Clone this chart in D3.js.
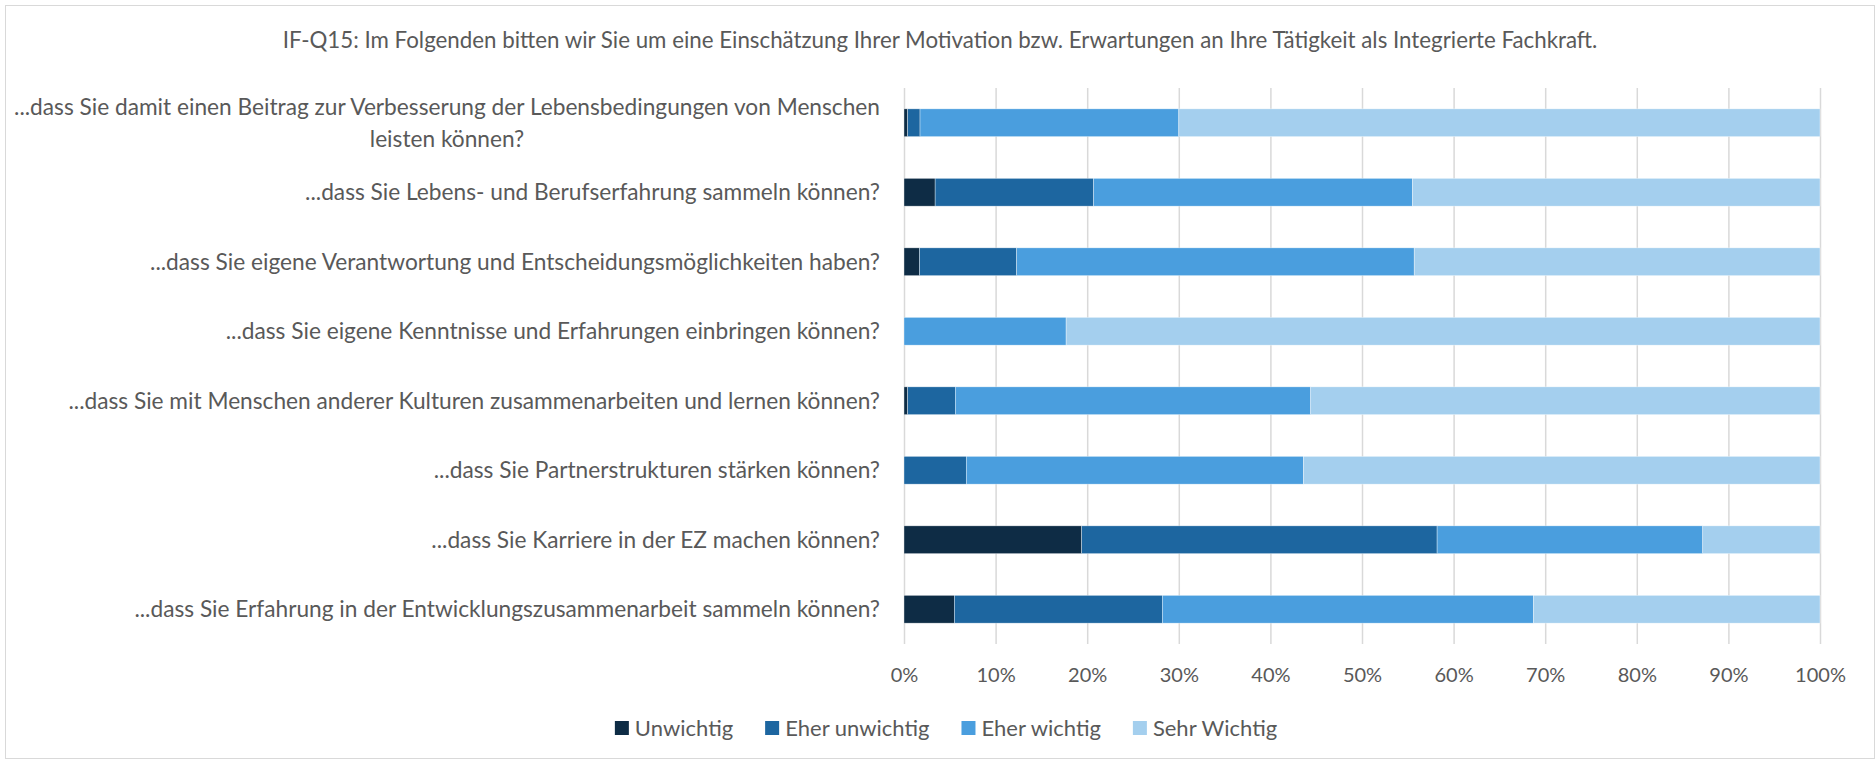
<!DOCTYPE html>
<html>
<head>
<meta charset="utf-8">
<script src="https://cdn.jsdelivr.net/npm/d3@7"></script>
<style>
  body { margin: 0; background: #fff; }
</style>
</head>
<body>
<div id="chart"></div>
<script>
// -------------------- DATA --------------------

const title = "IF-Q15: Im Folgenden bitten wir Sie um eine Einschätzung Ihrer Motivation bzw. Erwartungen an Ihre Tätigkeit als Integrierte Fachkraft.";

const categories = [
    "...dass Sie damit einen Beitrag zur Verbesserung der Lebensbedingungen von Menschen|leisten können?",
    "...dass Sie Lebens- und Berufserfahrung sammeln können?",
    "...dass Sie eigene Verantwortung und Entscheidungsmöglichkeiten haben?",
    "...dass Sie eigene Kenntnisse und Erfahrungen einbringen können?",
    "...dass Sie mit Menschen anderer Kulturen zusammenarbeiten und lernen können?",
    "...dass Sie Partnerstrukturen stärken können?",
    "...dass Sie Karriere in der EZ machen können?",
    "...dass Sie Erfahrung in der Entwicklungszusammenarbeit sammeln können?"
];

const seriesNames = ["Unwichtig", "Eher unwichtig", "Eher wichtig", "Sehr Wichtig"];

const unwichtig     = [0.4, 3.4, 1.7, 0, 0.4, 0, 19.4, 5.5];
const eherUnwichtig = [1.35, 17.3, 10.6, 0, 5.2, 6.8, 38.8, 22.7];
const eherWichtig   = [28.25, 34.8, 43.4, 17.7, 38.8, 36.8, 29.0, 40.5];
const sehrWichtig   = [70.0, 44.5, 44.3, 82.3, 55.6, 56.4, 12.8, 31.3];

const tickValues = [0, 0.1, 0.2, 0.3, 0.4, 0.5, 0.6, 0.7, 0.8, 0.9, 1];

// -------------------- VISUALIZATION --------------------

const width = 1876, height = 763;
const fontFamily = "Lato";
const textColor = "#595959";
const colors = ["#0e2c45", "#1d66a0", "#4a9ede", "#a4cfee"];

function draw() {
    let table = categories.map((c, i) => ({
        name: c,
        [seriesNames[0]]: unwichtig[i],
        [seriesNames[1]]: eherUnwichtig[i],
        [seriesNames[2]]: eherWichtig[i],
        [seriesNames[3]]: sehrWichtig[i]
    }));

    let stacked = d3.stack()
        .keys(seriesNames)
        .offset(d3.stackOffsetExpand)(table);

    let margin = ({ top: 88, right: 56, bottom: 119, left: 904 });

    const svg = d3.select("#chart")
        .append("svg")
        .attr("width", width)
        .attr("height", height)
        .attr("font-family", fontFamily);

    // chart frame
    svg.append("rect")
        .attr("x", 5.5).attr("y", 5.5)
        .attr("width", width - 7).attr("height", height - 10)
        .attr("fill", "white")
        .attr("stroke", "#d9d9d9");

    let x = d3.scaleLinear()
        .domain([0, 1])
        .range([margin.left, width - margin.right]);
    let y = d3.scaleBand()
        .domain(categories)
        .range([margin.top, height - margin.bottom])
        .paddingInner(0.6)
        .paddingOuter(0.3);

    // title
    svg.append("text")
        .attr("x", 940)
        .attr("y", 40)
        .attr("dy", "0.35em")
        .attr("text-anchor", "middle")
        .attr("fill", textColor)
        .attr("font-size", 22.3)
        .text(title);

    // grid lines + tick labels
    let xAxis = g => g
        .attr("transform", `translate(0,${height - margin.bottom})`)
        .call(d3.axisBottom(x)
            .tickValues(tickValues)
            .tickFormat(d3.format(".0%"))
            .tickSize(-(height - margin.top - margin.bottom))
            .tickPadding(24))
        .call(g => g.select(".domain").remove())
        .call(g => g.selectAll(".tick line").attr("stroke", "#d9d9d9").attr("stroke-width", 1.5))
        .call(g => g.selectAll(".tick text").attr("fill", textColor).attr("font-size", 20).attr("font-family", fontFamily));

    svg.append("g").call(xAxis);

    // bars
    svg.append("g")
        .selectAll("g")
        .data(stacked)
        .join("g")
        .attr("fill", (d, i) => colors[i])
        .selectAll("rect")
        .data(d => d)
        .join("rect")
        .attr("x", d => x(d[0]))
        .attr("y", d => y(d.data.name))
        .attr("width", d => x(d[1]) - x(d[0]))
        .attr("height", y.bandwidth())
        .attr("stroke", "white")
        .attr("stroke-width", 0.6)
        .attr("stroke-opacity", 0.6);

    // category labels; wrapped lines are centred under the first line like in Excel
    let labelX = margin.left - 24;
    let lineH = 32;
    let labelG = svg.append("g")
        .attr("fill", textColor)
        .attr("font-size", 22.7);

    categories.forEach(d => {
        let parts = d.split("|");
        let cy = y(d) + y.bandwidth() / 2;
        let first = labelG.append("text")
            .attr("x", labelX)
            .attr("y", cy - (parts.length - 1) / 2 * lineH)
            .attr("dy", "0.35em")
            .attr("text-anchor", "end")
            .text(parts[0]);
        if (parts.length === 1) return;
        let box = first.node().getBBox();
        let cx = box.x + box.width / 2;
        parts.slice(1).forEach((p, k) => {
            labelG.append("text")
                .attr("x", cx)
                .attr("y", cy + (k + 1 - (parts.length - 1) / 2) * lineH)
                .attr("dy", "0.35em")
                .attr("text-anchor", "middle")
                .text(p);
        });
    });

    // legend
    let legend = svg.append("g")
        .attr("font-size", 22)
        .attr("fill", textColor);

    let items = legend.selectAll("g")
        .data(seriesNames)
        .join("g");

    items.append("rect")
        .attr("width", 14)
        .attr("height", 14)
        .attr("y", -7)
        .attr("fill", (d, i) => colors[i]);

    items.append("text")
        .attr("x", 20)
        .attr("dy", "0.35em")
        .text(d => d);

    let offset = 0, positions = [];
    items.each(function () {
        positions.push(offset);
        offset += 20 + d3.select(this).select("text").node().getBBox().width + 32;
    });
    let legendWidth = offset - 32;
    let legendStart = 946 - legendWidth / 2;
    items.attr("transform", (d, i) => `translate(${legendStart + positions[i]},728)`);
}

document.fonts.load("22px Lato").then(draw, draw);
</script>
</body>
</html>
